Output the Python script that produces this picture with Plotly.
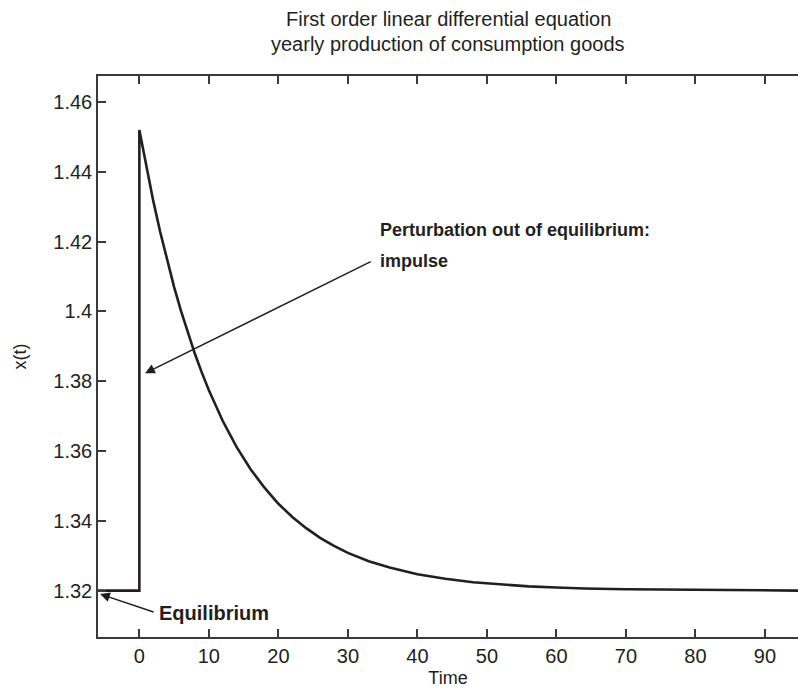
import plotly.graph_objects as go

# Yearly production of consumption goods, x(t), after an impulse at t = 0
time = [-6, 0, 0, 1, 2, 3, 4, 5, 6, 7, 8, 9, 10, 12, 14, 16, 18, 20, 22, 24,
        26, 28, 30, 33, 36, 40, 44, 48, 52, 56, 60, 64, 70, 80, 95]
production = [1.32, 1.32, 1.452, 1.4414, 1.4317, 1.4228, 1.4146, 1.4070,
              1.4001, 1.3937, 1.3878, 1.3824, 1.3774, 1.3686, 1.3611, 1.3548,
              1.3495, 1.3449, 1.3411, 1.3379, 1.3351, 1.3328, 1.3308, 1.3284,
              1.3266, 1.3247, 1.3234, 1.3224, 1.3217, 1.3212, 1.3209, 1.3206,
              1.3204, 1.3202, 1.3200]

x_ticks = [0, 10, 20, 30, 40, 50, 60, 70, 80, 90]
y_ticks = [1.32, 1.34, 1.36, 1.38, 1.40, 1.42, 1.44, 1.46]
y_tick_text = ["1.32", "1.34", "1.36", "1.38", "1.4", "1.42", "1.44", "1.46"]

title_lines = ["First order linear differential equation",
               "yearly production of consumption goods"]

x_range = [-5.95, 94.75]
y_range = [1.3067, 1.4675]

INK = "#231f20"
AXIS = "#3a3a3a"
FONT = "Liberation Sans, Arial, sans-serif"

fig = go.Figure()
fig.add_trace(go.Scatter(
    x=time, y=production, mode="lines",
    line=dict(color=INK, width=2.6),
    showlegend=False, hoverinfo="skip",
))

fig.update_layout(
    width=798, height=693,
    margin=dict(l=98, r=0, t=76, b=56),
    paper_bgcolor="white", plot_bgcolor="white",
    font=dict(family=FONT, size=20, color=INK),
    xaxis=dict(
        range=x_range, tickvals=x_ticks, ticks="inside", ticklen=8,
        tickwidth=1.5, tickcolor=AXIS, showline=True, linecolor=AXIS,
        linewidth=1.5, mirror="ticks", showgrid=False, zeroline=False,
        title=dict(text="Time", standoff=6, font=dict(size=18)),
        tickfont=dict(size=20),
    ),
    yaxis=dict(
        range=y_range, tickvals=y_ticks, ticktext=y_tick_text,
        ticks="inside", ticklen=8, tickwidth=1.5, tickcolor=AXIS,
        showline=True, linecolor=AXIS, linewidth=1.5, showgrid=False,
        zeroline=False, title=dict(text="x(t)", standoff=22, font=dict(size=18)),
        tickfont=dict(size=20),
    ),
    yaxis2=dict(
        range=y_range, tickvals=y_ticks, overlaying="y", side="right",
        ticks="inside", ticklen=8, tickwidth=1.5, tickcolor=AXIS,
        showticklabels=False, showline=False, showgrid=False, zeroline=False,
    ),
)

# Two-line title above the axes
for line, ypos in zip(title_lines, [1.1017, 1.0570]):
    fig.add_annotation(xref="paper", yref="paper", x=0.5, y=ypos,
                       xanchor="center", yanchor="middle", text=line,
                       showarrow=False, font=dict(size=20, color=INK))

# Arrows
fig.add_annotation(x=0.82, y=1.3823, ax=33.5, ay=1.4145, axref="x", ayref="y",
                   text="", showarrow=True, arrowhead=2, arrowsize=1.3,
                   arrowwidth=1.5, arrowcolor=INK)
fig.add_annotation(x=-5.65, y=1.3190, ax=2.26, ay=1.3137, axref="x", ayref="y",
                   text="", showarrow=True, arrowhead=2, arrowsize=1.3,
                   arrowwidth=1.5, arrowcolor=INK)

# Labels
fig.add_annotation(x=34.4, y=1.4234, xanchor="left", yanchor="middle",
                   text="<b>Perturbation out of equilibrium:</b>", showarrow=False,
                   font=dict(size=18, color=INK))
fig.add_annotation(x=34.4, y=1.4145, xanchor="left", yanchor="middle",
                   text="<b>impulse</b>", showarrow=False,
                   font=dict(size=18, color=INK))
fig.add_annotation(x=2.5, y=1.3135, xanchor="left", yanchor="middle",
                   text="<b>Equilibrium</b>", showarrow=False,
                   font=dict(size=20, color=INK))

fig.write_html("out.html")
